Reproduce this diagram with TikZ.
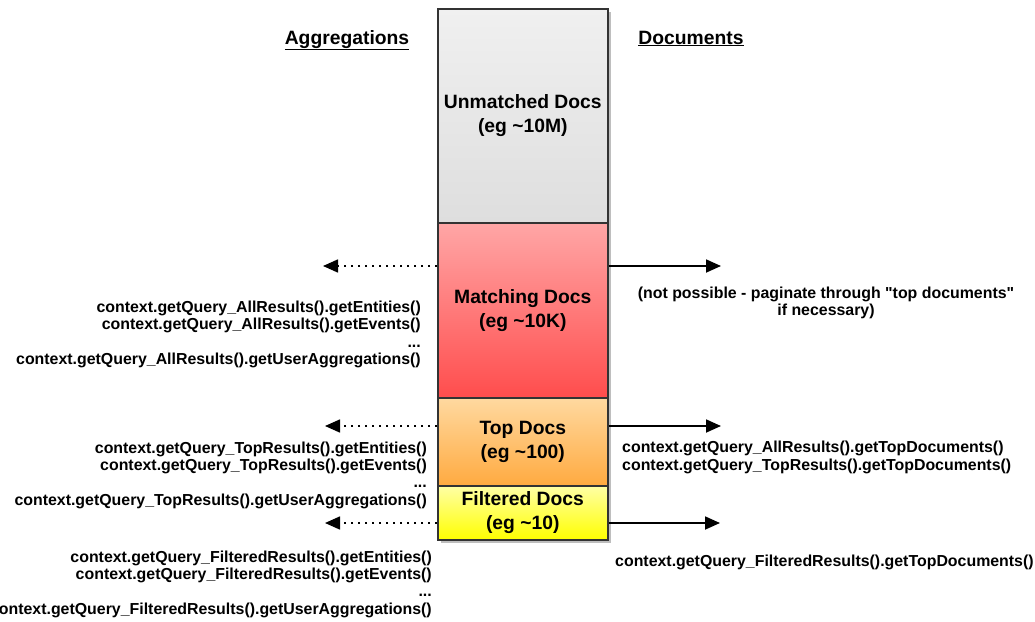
\documentclass[tikz,border=0pt]{standalone}
\usepackage{fontspec}
\setmainfont{Liberation Sans}
\usetikzlibrary{arrows.meta}
\definecolor{edge}{HTML}{333333}
\definecolor{shadowgray}{RGB}{190,190,190}
\definecolor{grayT}{RGB}{240,240,240}
\definecolor{grayB}{RGB}{222,222,222}
\definecolor{redT}{RGB}{255,166,166}
\definecolor{redB}{RGB}{255,77,77}
\definecolor{orangeT}{RGB}{255,217,160}
\definecolor{orangeB}{RGB}{255,170,64}
\definecolor{yellowT}{RGB}{255,255,165}
\definecolor{yellowB}{RGB}{255,255,0}
\begin{document}
\begin{tikzpicture}[x=1pt,y=-1pt,
  sect/.style={draw=edge, line width=1.6pt, minimum width=170pt, inner sep=0pt,
    anchor=north west, align=center, font=\fontsize{19.3}{24}\selectfont\bfseries},
  code/.style={inner sep=0pt, font=\fontsize{15.9}{17.3}\selectfont\bfseries},
  head/.style={inner sep=0pt, anchor=base, font=\fontsize{19.3}{24}\selectfont\bfseries},
  dotarrow/.style={line width=1.6pt, dash pattern=on 1.8pt off 5.2pt,
    -{Triangle[length=15pt,width=13pt]}},
  solidarrow/.style={line width=1.8pt, -{Triangle[length=15pt,width=13pt]}}
]
\useasboundingbox (0,0) rectangle (1035,621);
\clip (0,0) rectangle (1035,621);

% shadow of the stack
\fill[shadowgray] (441,12) rectangle (611,543);

% stacked sections
\node[sect, top color=grayT, bottom color=grayB, minimum height=214pt] (um) at (437,8)
  {Unmatched Docs\\(eg \textasciitilde10M)};
\node[sect, top color=redT, bottom color=redB, minimum height=175pt] (match) at (437,222)
  {Matching Docs\\(eg \textasciitilde10K)};
\node[sect, top color=orangeT, bottom color=orangeB, minimum height=88pt] (top) at (437,397)
  {Top Docs\\(eg \textasciitilde100)};
\node[sect, top color=yellowT, bottom color=yellowB, minimum height=54pt] (filt) at (437,485)
  {Filtered Docs\\(eg \textasciitilde10)};

% headers
\node[head] (agg) at (347,44) {\underline{Aggregations}};
\node[head] (docs) at (691,44) {\underline{Documents}};

% arrow end points
\coordinate (mL) at (323,266);
\coordinate (mR) at (721,266);
\coordinate (tL) at (325,426);
\coordinate (tR) at (721,426);
\coordinate (fL) at (325,523);
\coordinate (fR) at (720,523);

\draw[dotarrow] (match.west |- mL) -- (mL);
\draw[solidarrow] (match.east |- mR) -- (mR);
\draw[dotarrow] (top.west |- tL) -- (tL);
\draw[solidarrow] (top.east |- tR) -- (tR);
\draw[dotarrow] (filt.west |- fL) -- (fL);
\draw[solidarrow] (filt.east |- fR) -- (fR);

% aggregation texts
\node[code, align=right, anchor=east] (aggAll) at (421,334.5)
  {context.getQuery\_AllResults().getEntities()\\
   context.getQuery\_AllResults().getEvents()\\
   ...\\
   context.getQuery\_AllResults().getUserAggregations()};
\node[code, align=right, anchor=east] (aggTop) at (427,475)
  {context.getQuery\_TopResults().getEntities()\\
   context.getQuery\_TopResults().getEvents()\\
   ...\\
   context.getQuery\_TopResults().getUserAggregations()};
\node[code, align=right, anchor=east] (aggFilt) at (432,584)
  {context.getQuery\_FilteredResults().getEntities()\\
   context.getQuery\_FilteredResults().getEvents()\\
   ...\\
   context.getQuery\_FilteredResults().getUserAggregations()};

% document texts
\node[code, align=center] (docAll) at (826,303)
  {(not possible - paginate through \textquotedbl top documents\textquotedbl\\if necessary)};
\node[code, align=left, anchor=west] (docTop) at (622,457.5)
  {context.getQuery\_AllResults().getTopDocuments()\\
   context.getQuery\_TopResults().getTopDocuments()};
\node[code, anchor=west] (docFilt) at (615,562)
  {context.getQuery\_FilteredResults().getTopDocuments()};
\end{tikzpicture}
\end{document}
